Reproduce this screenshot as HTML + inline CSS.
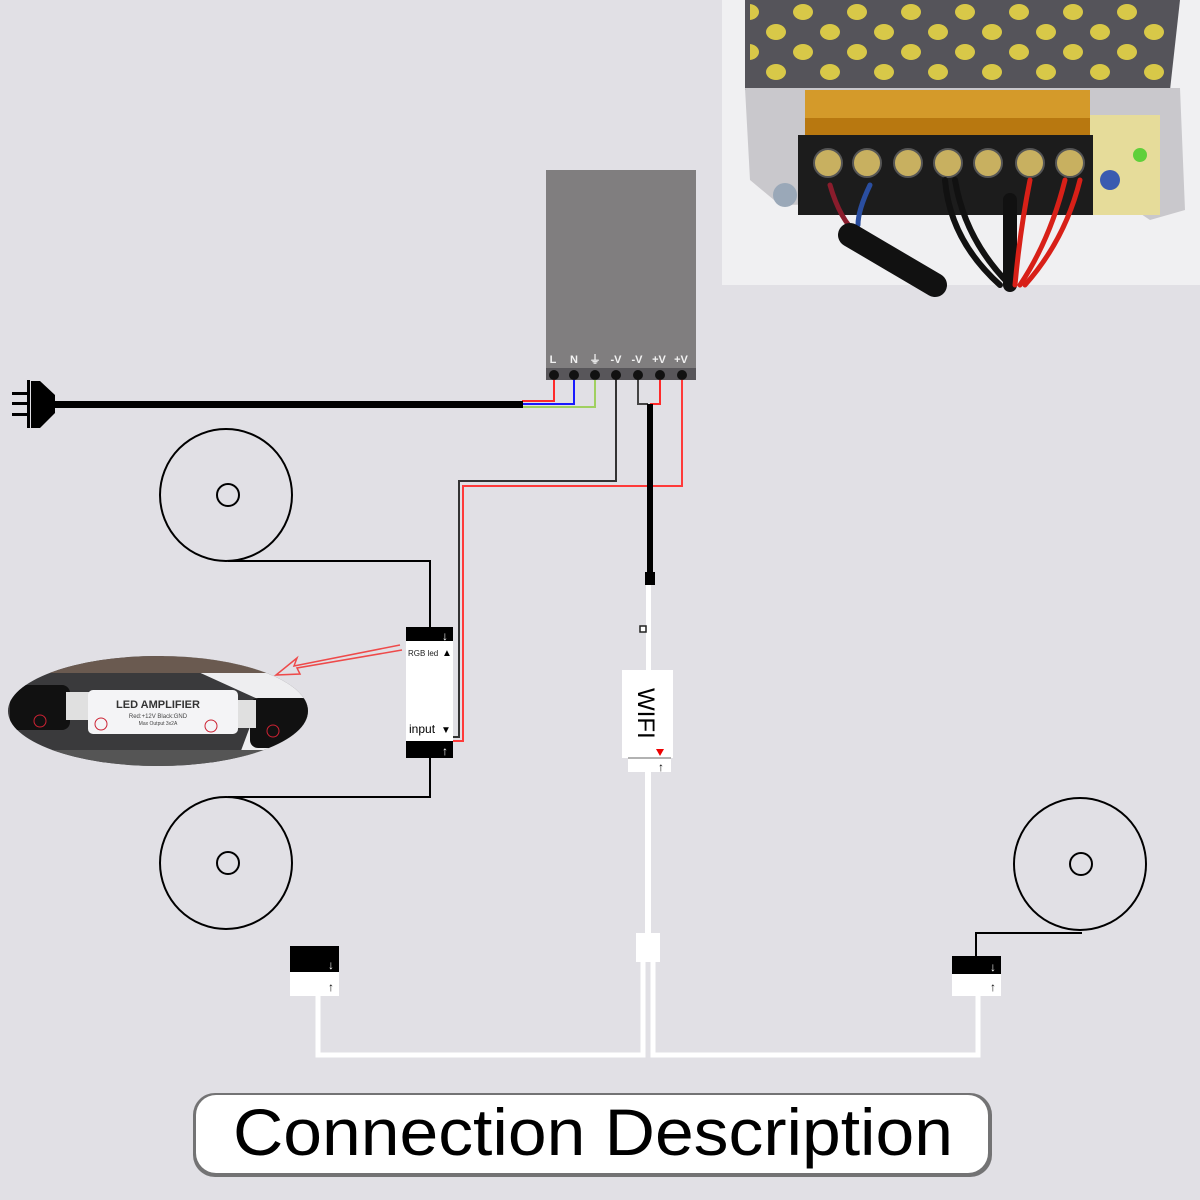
<!DOCTYPE html>
<html><head><meta charset="utf-8"><style>
html,body{margin:0;padding:0;background:#e1e0e5;}
svg{display:block;font-family:"Liberation Sans",sans-serif;}
</style></head><body>
<svg width="1200" height="1200" viewBox="0 0 1200 1200" xmlns="http://www.w3.org/2000/svg">
<defs>
<pattern id="holes" x="790" y="0" width="54" height="40" patternUnits="userSpaceOnUse">
<ellipse cx="13" cy="12" rx="10" ry="8" fill="#d8c848"/>
<ellipse cx="40" cy="32" rx="10" ry="8" fill="#d8c848"/>
</pattern>
<clipPath id="ov"><ellipse cx="158" cy="711" rx="150" ry="55"/></clipPath>
</defs>
<rect width="1200" height="1200" fill="#e1e0e5"/>

<!-- Photo top right -->
<rect x="722" y="0" width="478" height="285" fill="#f0f0f2"/>
<polygon points="745,0 1180,0 1170,90 745,90" fill="#55545a"/>
<rect x="750" y="0" width="420" height="80" fill="url(#holes)"/>
<polygon points="745,88 1180,88 1185,210 1150,220 1120,200 780,205 750,180" fill="#c9c8cc"/>
<rect x="805" y="90" width="285" height="45" fill="#d49a2a"/>
<rect x="805" y="118" width="285" height="17" fill="#b87810"/>
<rect x="1090" y="115" width="70" height="100" fill="#e6dc9a"/>
<circle cx="1140" cy="155" r="7" fill="#5fd03a"/>
<circle cx="1110" cy="180" r="10" fill="#3a5bb0"/>
<rect x="798" y="135" width="295" height="80" fill="#1c1c1c"/>
<g fill="#c8b060" stroke="#555" stroke-width="2">
<circle cx="828" cy="163" r="14"/><circle cx="867" cy="163" r="14"/><circle cx="908" cy="163" r="14"/><circle cx="948" cy="163" r="14"/><circle cx="988" cy="163" r="14"/><circle cx="1030" cy="163" r="14"/><circle cx="1070" cy="163" r="14"/>
</g>
<circle cx="785" cy="195" r="12" fill="#9aa8b8"/>
<g fill="none" stroke-linecap="round">
<path d="M830,185 Q840,220 858,235" stroke="#8a1c2c" stroke-width="5"/>
<path d="M870,185 Q858,210 858,225" stroke="#2a4ea0" stroke-width="5"/>
<path d="M850,235 L935,285" stroke="#111" stroke-width="24"/>
<path d="M945,180 Q950,240 1000,285" stroke="#111" stroke-width="6"/>
<path d="M955,180 Q965,240 1010,285" stroke="#111" stroke-width="6"/>
<path d="M1010,200 L1010,285" stroke="#111" stroke-width="14"/>
<path d="M1030,180 Q1020,230 1015,285" stroke="#d82018" stroke-width="5"/>
<path d="M1065,180 Q1050,240 1020,285" stroke="#d82018" stroke-width="5"/>
<path d="M1080,180 Q1065,240 1025,285" stroke="#d82018" stroke-width="5"/>
</g>

<!-- PSU -->
<rect x="546" y="170" width="150" height="210" fill="#807e7f"/>
<rect x="546" y="368" width="150" height="12" fill="#58565a"/>
<g fill="#f2f2f2" font-size="11" font-weight="bold" text-anchor="middle">
<text x="553" y="363">L</text><text x="574" y="363">N</text><text x="595" y="363">⏚</text><text x="616" y="363">-V</text><text x="637" y="363">-V</text><text x="659" y="363">+V</text><text x="681" y="363">+V</text>
</g>
<g fill="none" stroke-width="2">
<polyline points="554,375 554,401 522,401" stroke="#ff2a2a"/>
<polyline points="574,375 574,404 522,404" stroke="#1a1aff"/>
<polyline points="595,375 595,407 522,407" stroke="#a0d060"/>
<polyline points="616,375 616,481 459,481 459,737 452,737" stroke="#333"/>
<polyline points="682,375 682,486 463,486 463,741 452,741" stroke="#ff3a3a"/>
<polyline points="638,375 638,404 648,404" stroke="#444"/>
<polyline points="660,375 660,404 650,404" stroke="#ff2a2a"/>
</g>
<g fill="#111">
<circle cx="554" cy="375" r="5"/><circle cx="574" cy="375" r="5"/><circle cx="595" cy="375" r="5"/><circle cx="616" cy="375" r="5"/><circle cx="638" cy="375" r="5"/><circle cx="660" cy="375" r="5"/><circle cx="682" cy="375" r="5"/>
</g>
<rect x="647" y="404" width="6" height="170" fill="#000"/>
<rect x="645" y="572" width="10" height="13" fill="#000"/>

<!-- Plug -->
<rect x="55" y="401" width="468" height="7" fill="#000"/>
<rect x="12" y="392" width="15" height="3" fill="#000"/>
<rect x="12" y="402" width="15" height="3" fill="#000"/>
<rect x="12" y="413" width="15" height="3" fill="#000"/>
<rect x="27" y="380" width="3" height="48" fill="#000"/>
<polygon points="31,381 40,381 55,395 55,413 40,428 31,428" fill="#000"/>

<!-- Circles -->
<g fill="none" stroke="#000" stroke-width="2">
<circle cx="226" cy="495" r="66"/><circle cx="228" cy="495" r="11"/>
<circle cx="226" cy="863" r="66"/><circle cx="228" cy="863" r="11"/>
<circle cx="1080" cy="864" r="66"/><circle cx="1081" cy="864" r="11"/>
<polyline points="228,561 430,561 430,627"/>
<polyline points="430,758 430,797 228,797"/>
<polyline points="976,956 976,933 1082,933"/>
</g>

<!-- Amplifier -->
<rect x="406" y="627" width="47" height="14" fill="#000"/>
<rect x="406" y="641" width="47" height="100" fill="#fff"/>
<rect x="406" y="741" width="47" height="17" fill="#000"/>
<text x="448" y="640" fill="#fff" font-size="12" font-weight="bold" text-anchor="end">↓</text>
<text x="448" y="755" fill="#fff" font-size="12" font-weight="bold" text-anchor="end">↑</text>
<text x="408" y="656" font-size="8" fill="#222">RGB led</text>
<text x="442" y="656" font-size="10" fill="#000">▲</text>
<text x="409" y="733" font-size="12" fill="#000">input</text>
<text x="441" y="733" font-size="10" fill="#000">▼</text>

<!-- red arrow -->
<polyline points="400,645 294,666 297,658 276,675 300,674 297,668 402,650" fill="none" stroke="#ee4a4a" stroke-width="1.5"/>

<!-- Amplifier photo oval -->
<g clip-path="url(#ov)">
<rect x="0" y="650" width="320" height="130" fill="#3a3a3c"/>
<polygon points="150,650 320,650 320,780 230,780 260,700" fill="#eeeef0"/>
<rect x="0" y="655" width="320" height="18" fill="#6a5a50"/>
<rect x="10" y="685" width="60" height="45" rx="8" fill="#111"/>
<rect x="250" y="698" width="60" height="50" rx="8" fill="#111"/>
<rect x="66" y="692" width="26" height="28" fill="#e0e0e0"/>
<rect x="230" y="700" width="26" height="28" fill="#e0e0e0"/>
<rect x="88" y="690" width="150" height="44" rx="5" fill="#f4f4f6"/>
<text x="158" y="708" font-size="11" font-weight="bold" text-anchor="middle" fill="#333">LED AMPLIFIER</text>
<text x="158" y="718" font-size="6" text-anchor="middle" fill="#444">Red:+12V Black:GND</text>
<text x="158" y="725" font-size="5" text-anchor="middle" fill="#444">Max Output 3x2A</text>
<g fill="none" stroke="#cc2233" stroke-width="1"><circle cx="40" cy="721" r="6"/><circle cx="101" cy="724" r="6"/><circle cx="211" cy="726" r="6"/><circle cx="273" cy="731" r="6"/></g>
<rect x="0" y="750" width="320" height="30" fill="#555"/>
</g>

<!-- WIFI controller -->
<rect x="646" y="585" width="5" height="85" fill="#fff"/>
<rect x="640" y="626" width="6" height="6" fill="#fff" stroke="#222" stroke-width="1.5"/>
<rect x="622" y="670" width="51" height="88" fill="#fff"/>
<text x="0" y="0" font-size="24" fill="#000" transform="translate(638,688) rotate(90)">WIFI</text>
<polygon points="656,749 664,749 660,756" fill="#e00"/>
<rect x="628" y="758" width="43" height="14" fill="#fff"/>
<line x1="628" y1="758" x2="671" y2="758" stroke="#666" stroke-width="1"/>
<text x="661" y="771" font-size="12" font-weight="bold" text-anchor="middle">↑</text>
<rect x="645" y="772" width="6" height="162" fill="#fff"/>
<rect x="636" y="933" width="24" height="29" fill="#fff"/>
<g fill="none" stroke="#fff" stroke-width="5">
<polyline points="643,962 643,1055 318,1055 318,996"/>
<polyline points="653,962 653,1055 978,1055 978,996"/>
</g>

<!-- bottom connectors -->
<rect x="290" y="946" width="49" height="26" fill="#000"/>
<rect x="290" y="972" width="49" height="24" fill="#fff"/>
<text x="331" y="969" fill="#fff" font-size="12" font-weight="bold" text-anchor="middle">↓</text>
<text x="331" y="991" fill="#000" font-size="12" font-weight="bold" text-anchor="middle">↑</text>
<rect x="952" y="956" width="49" height="18" fill="#000"/>
<rect x="952" y="974" width="49" height="22" fill="#fff"/>
<text x="993" y="971" fill="#fff" font-size="12" font-weight="bold" text-anchor="middle">↓</text>
<text x="993" y="991" fill="#000" font-size="12" font-weight="bold" text-anchor="middle">↑</text>

<!-- title -->
<rect x="193" y="1093" width="799" height="84" rx="22" fill="#444" opacity="0.7"/>
<rect x="196" y="1095" width="792" height="78" rx="20" fill="#fff"/>
<text x="233" y="1155" font-size="66" fill="#000" textLength="720" lengthAdjust="spacingAndGlyphs">Connection Description</text>
</svg>
</body></html>
